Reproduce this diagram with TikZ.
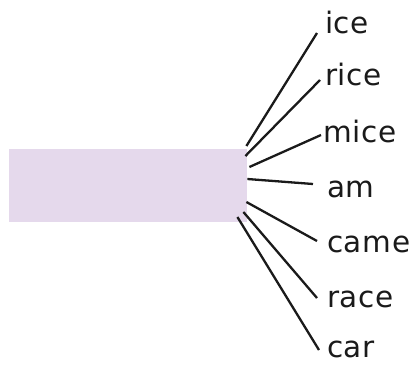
\documentclass[tikz,border=0pt]{standalone}
\usepackage{fontspec}
\setmainfont{DejaVu Sans}[LetterSpace=2]
\usetikzlibrary{calc}
\definecolor{boxfill}{HTML}{E5D9EC}
\definecolor{ink}{HTML}{1A1A1A}
\begin{document}
\begin{tikzpicture}[x=1pt,y=-1pt,
  word/.style={anchor=base west, inner sep=0pt, font=\fontsize{29.5}{32}\selectfont, text=ink},
  link/.style={line width=2.3pt, draw=ink},
  box/.style={fill=boxfill, draw=none, minimum width=238pt, minimum height=73pt, inner sep=0pt, anchor=north west}]
\useasboundingbox (0,0) rectangle (417,365);
\node[box] (box) at (9,149) {};
\node[word] (ice)  at (325,33)  {ice};
\node[word] (rice) at (325,85)  {rice};
\node[word] (mice) at (323,142) {mice};
\node[word] (am)   at (327,197) {am};
\node[word] (came) at (327,252) {came};
\node[word] (race) at (327,307) {race};
\node[word] (car)  at (327,357) {car};
\coordinate (s1) at ($(box.north east)+(-1,-3)$);
\coordinate (s2) at ($(box.north east)+(-2,7)$);
\coordinate (s3) at ($(box.north east)+(2,18)$);
\coordinate (s4) at ($(box.north east)+(0,30)$);
\coordinate (s5) at ($(box.north east)+(-1,53)$);
\coordinate (s6) at ($(box.north east)+(-4,63)$);
\coordinate (s7) at ($(box.north east)+(-10,68)$);
\draw[link] (s1) -- ($(ice.base west)+(-8,0)$);
\draw[link] (s2) -- ($(rice.base west)+(-5,-5)$);
\draw[link] (s3) -- ($(mice.base west)+(-2,-7)$);
\draw[link] (s4) -- ($(am.base west)+(-14,-13)$);
\draw[link] (s5) -- ($(came.base west)+(-10,-11)$);
\draw[link] (s6) -- ($(race.base west)+(-10,-9)$);
\draw[link] (s7) -- ($(car.base west)+(-8,-7)$);
\end{tikzpicture}
\end{document}
